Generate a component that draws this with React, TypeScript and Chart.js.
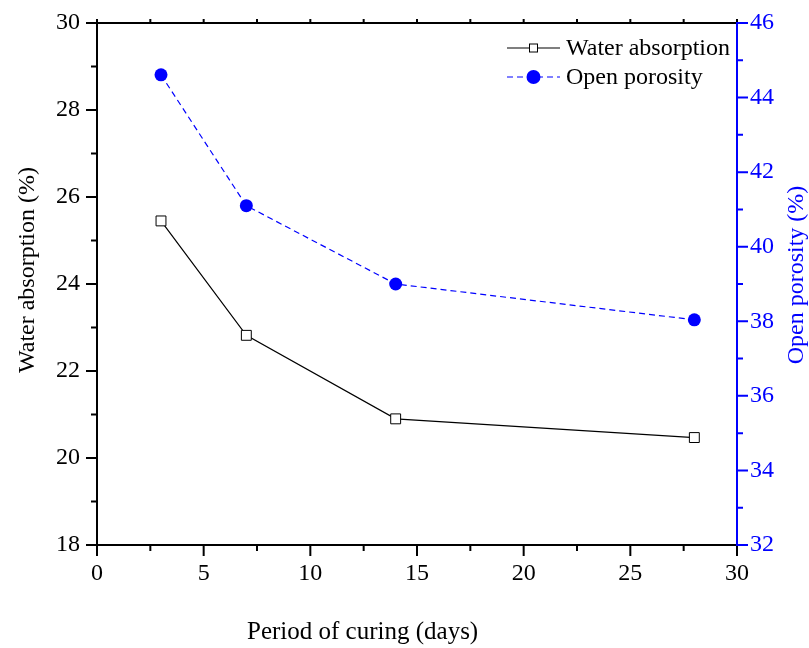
import { useEffect, useRef } from "react";
import { Chart, registerables } from "chart.js";
Chart.register(...registerables);

const curingDays = [3, 7, 14, 28];
const waterAbsorption = [25.45, 22.82, 20.9, 20.47];
const openPorosity = [44.61, 41.1, 39.0, 38.04];
const xRange = [0, 30];
const leftRange = [18, 30];
const rightRange = [32, 46];
const xTitle = "Period of curing (days)";
const leftTitle = "Water absorption (%)";
const rightTitle = "Open porosity (%)";
const seriesNames = ["Water absorption", "Open porosity"];

const FONT = "'Liberation Serif', 'Times New Roman', serif";
const BLUE = "#0000ff";

const framePlugin = {
  id: "frame",
  afterDraw(chart: any) {
    const { ctx, chartArea: a, scales } = chart;
    const x = scales.x, y = scales.y, y1 = scales.y1;
    ctx.save();
    ctx.lineWidth = 2;
    ctx.lineCap = "butt";
    ctx.strokeStyle = "#000";
    ctx.beginPath();
    ctx.moveTo(a.left, a.top);
    ctx.lineTo(a.left, a.bottom);
    ctx.moveTo(a.left - 1, a.bottom);
    ctx.lineTo(a.right, a.bottom);
    ctx.moveTo(a.left - 1, a.top);
    ctx.lineTo(a.right, a.top);
    ctx.stroke();
    ctx.beginPath();
    for (let v = leftRange[0]; v <= leftRange[1]; v += 1) {
      const py = y.getPixelForValue(v);
      const len = v % 2 === 0 ? 11 : 6;
      ctx.moveTo(a.left - len, py);
      ctx.lineTo(a.left, py);
    }
    for (let v = xRange[0]; v <= xRange[1]; v += 2.5) {
      const px = x.getPixelForValue(v);
      const major = v % 5 === 0;
      ctx.moveTo(px, a.bottom);
      ctx.lineTo(px, a.bottom + (major ? 11 : 6));
      ctx.moveTo(px, a.top);
      ctx.lineTo(px, a.top - 4);
    }
    ctx.stroke();
    ctx.strokeStyle = BLUE;
    ctx.beginPath();
    ctx.moveTo(a.right, a.top - 1);
    ctx.lineTo(a.right, a.bottom + 1);
    for (let v = rightRange[0]; v <= rightRange[1]; v += 1) {
      const py = y1.getPixelForValue(v);
      const len = v % 2 === 0 ? 11 : 6;
      ctx.moveTo(a.right, py);
      ctx.lineTo(a.right + len, py);
    }
    ctx.stroke();

    ctx.textAlign = "center";
    ctx.textBaseline = "middle";
    ctx.fillStyle = "#000";
    ctx.font = `25px ${FONT}`;
    ctx.fillText(xTitle, a.left + (a.right - a.left) * 0.415, a.bottom + 87);
    ctx.font = `24px ${FONT}`;
    ctx.save();
    ctx.translate(a.left - 69, (a.top + a.bottom) / 2 - 14);
    ctx.rotate(-Math.PI / 2);
    ctx.fillText(leftTitle, 0, 0);
    ctx.restore();
    ctx.save();
    ctx.fillStyle = BLUE;
    ctx.translate(a.right + 60, (a.top + a.bottom) / 2 - 9);
    ctx.rotate(-Math.PI / 2);
    ctx.fillText(rightTitle, 0, 0);
    ctx.restore();

    const lx0 = a.right - 230, lx1 = a.right - 177, lmid = (lx0 + lx1) / 2;
    const r1 = a.top + 25, r2 = a.top + 54;
    ctx.lineWidth = 1.2;
    ctx.strokeStyle = "#000";
    ctx.beginPath();
    ctx.moveTo(lx0, r1);
    ctx.lineTo(lx1, r1);
    ctx.stroke();
    ctx.fillStyle = "#fff";
    ctx.fillRect(lmid - 4, r1 - 4, 8, 8);
    ctx.lineWidth = 1;
    ctx.strokeRect(lmid - 4, r1 - 4, 8, 8);
    ctx.strokeStyle = BLUE;
    ctx.lineWidth = 1.2;
    ctx.setLineDash([6, 4]);
    ctx.beginPath();
    ctx.moveTo(lx0, r2);
    ctx.lineTo(lx1, r2);
    ctx.stroke();
    ctx.setLineDash([]);
    ctx.fillStyle = BLUE;
    ctx.beginPath();
    ctx.arc(lmid, r2, 7, 0, Math.PI * 2);
    ctx.fill();
    ctx.fillStyle = "#000";
    ctx.textAlign = "left";
    ctx.fillText(seriesNames[0], a.right - 171, r1 + 1);
    ctx.fillText(seriesNames[1], a.right - 171, r2 + 1);
    ctx.restore();
  },
};

export default function App() {
  const ref = useRef<HTMLCanvasElement>(null);
  useEffect(() => {
    document.body.style.margin = "0";
    const canvas = ref.current!;
    const chart = new Chart(canvas, {
      type: "line",
      data: {
        datasets: [
          {
            label: seriesNames[0],
            data: curingDays.map((d, i) => ({ x: d, y: waterAbsorption[i] })),
            borderColor: "#000",
            borderWidth: 1.2,
            pointStyle: "rect",
            pointRadius: 7,
            pointBackgroundColor: "#fff",
            pointBorderColor: "#000",
            pointBorderWidth: 1,
            yAxisID: "y",
            tension: 0,
          },
          {
            label: seriesNames[1],
            data: curingDays.map((d, i) => ({ x: d, y: openPorosity[i] })),
            borderColor: BLUE,
            borderWidth: 1.2,
            borderDash: [6, 4],
            pointStyle: "circle",
            pointRadius: 6.5,
            pointBackgroundColor: BLUE,
            pointBorderColor: BLUE,
            pointBorderWidth: 0,
            yAxisID: "y1",
            tension: 0,
          },
        ],
      },
      options: {
        responsive: false,
        animation: false,
        layout: { padding: { top: 23, left: 0, right: 0, bottom: 0 } },
        plugins: { legend: { display: false }, tooltip: { enabled: false } },
        scales: {
          x: {
            type: "linear",
            min: xRange[0],
            max: xRange[1],
            grid: { display: false, drawTicks: false },
            border: { display: false },
            ticks: { stepSize: 5, padding: 14, color: "#000", font: { family: FONT, size: 24 } },
            afterFit: (s: any) => { s.height = 103; s.paddingLeft = 0; s.paddingRight = 0; },
          },
          y: {
            position: "left",
            min: leftRange[0],
            max: leftRange[1],
            grid: { display: false, drawTicks: false },
            border: { display: false },
            ticks: { stepSize: 2, padding: 17, color: "#000", font: { family: FONT, size: 24 } },
            afterFit: (s: any) => { s.width = 97; s.paddingTop = 0; s.paddingBottom = 0; },
          },
          y1: {
            position: "right",
            min: rightRange[0],
            max: rightRange[1],
            grid: { display: false, drawTicks: false },
            border: { display: false },
            ticks: { stepSize: 2, padding: 13, color: BLUE, font: { family: FONT, size: 24 } },
            afterFit: (s: any) => { s.width = 72; s.paddingTop = 0; s.paddingBottom = 0; },
          },
        },
      },
      plugins: [framePlugin],
    });
    return () => chart.destroy();
  }, []);
  return <canvas ref={ref} width={809} height={648} style={{ display: "block" }} />;
}
